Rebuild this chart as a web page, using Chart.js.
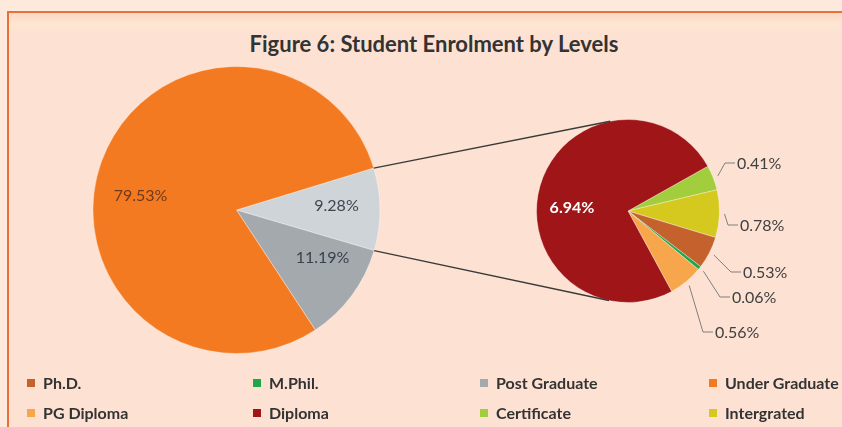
<!DOCTYPE html>
<html>
<head>
<meta charset="utf-8">
<script src="https://cdn.jsdelivr.net/npm/chart.js@4.4.1/dist/chart.umd.min.js"></script>
<style>
  html, body { margin: 0; padding: 0; }
  body { width: 842px; height: 427px; background: #fdeadd; position: relative; overflow: hidden; font-family: Lato, "Open Sans", sans-serif; }
  #frame { position: absolute; left: 7px; top: 11px; width: 860px; height: 430px;
    border-top: 2px solid #e8703a; border-left: 2px solid #e8703a;
    background: linear-gradient(to bottom, #fbd9c8 0px, #fcdcc9 4px, #fde6d1 10px, #fde2d3 20px, #fde2d3 100%); }
  #title { position: absolute; left: 0; width: 868px; top: 30px; text-align: center; font-weight: bold; font-size: 22px; color: #333; }
  canvas { position: absolute; left: 0; top: 0; }
  #legend { position: absolute; left: 0; top: 373px; width: 842px; }
  .li { position: absolute; font-weight: bold; font-size: 16px; color: #333; white-space: nowrap; }
  .li span.sw { display: inline-block; width: 8px; height: 8px; margin-right: 8px; vertical-align: 2px; }
</style>
</head>
<body>
<div id="frame"></div>
<div id="title">Figure 6: Student Enrolment by Levels</div>
<canvas id="c1" width="842" height="427"></canvas>
<canvas id="c2" width="842" height="427"></canvas>
<div id="legend"></div>
<script>
// ---- data ----
const legendLabels = ["Ph.D.", "M.Phil.", "Post Graduate", "Under Graduate", "PG Diploma", "Diploma", "Certificate", "Intergrated"];
const legendColors = ["#c5612d", "#1ea84b", "#a4a9ae", "#f47a22", "#f8a64b", "#a01517", "#a2cd3c", "#d5c81e"];

// main pie (first slice = the "other" group split out in the second pie)
const mainLabels = ["Other", "Post Graduate", "Under Graduate"];
const postGraduate = 11.19;
const underGraduate = 79.53;

// second pie
const subLabels = ["Certificate", "Intergrated", "Ph.D.", "M.Phil.", "PG Diploma", "Diploma"];
const subValues = [0.41, 0.78, 0.53, 0.06, 0.56, 6.94];
const subColors = ["#a2cd3c", "#d5c81e", "#c5612d", "#1ea84b", "#f8a64b", "#a01517"];

const otherTotal = Math.round(subValues.reduce((a, b) => a + b, 0) * 100) / 100;
const mainValues = [otherTotal, postGraduate, underGraduate];
const mainColors = ["#cfd4d9", "#a4a9ae", "#f47a22"];

// ---- legend ----
const legEl = document.getElementById('legend');
const colX = [27, 253, 480, 709];
legendLabels.forEach((l, i) => {
  const d = document.createElement('div');
  d.className = 'li';
  d.style.left = colX[i % 4] + 'px';
  d.style.top = (Math.floor(i / 4) * 30) + 'px';
  d.innerHTML = '<span class="sw" style="background:' + legendColors[i] + '"></span>' + l;
  legEl.appendChild(d);
});

Chart.defaults.animation = false;
Chart.defaults.font.family = 'Lato, "Open Sans", sans-serif';

// label plugin: text at offsets from pie centre
const pieLabels = {
  id: 'pieLabels',
  afterDatasetsDraw(chart, args, opts) {
    const ctx = chart.ctx;
    const meta = chart.getDatasetMeta(0);
    const ds = chart.data.datasets[0];
    ctx.save();
    meta.data.forEach((arc, i) => {
      const cfg = opts.items[i];
      if (!cfg) return;
      const txt = ds.data[i].toFixed(2) + '%';
      ctx.font = (cfg.bold ? 'bold ' : '') + opts.size + 'px ' + Chart.defaults.font.family;
      ctx.fillStyle = cfg.color;
      if (cfg.leader) {
        const mid = (arc.startAngle + arc.endAngle) / 2;
        const r0 = arc.outerRadius + 5;
        const sx = arc.x + Math.cos(mid) * r0, sy = arc.y + Math.sin(mid) * r0;
        const ex = arc.x + cfg.at[0], ey = arc.y + cfg.at[1];
        ctx.strokeStyle = '#7f7f7f';
        ctx.lineWidth = 1;
        ctx.beginPath();
        ctx.moveTo(sx, sy);
        ctx.lineTo(ex, ey);
        ctx.lineTo(ex + 10, ey);
        ctx.stroke();
        ctx.textAlign = 'left';
        ctx.textBaseline = 'middle';
        ctx.fillText(txt, ex + 12, ey + 1);
      } else {
        ctx.textAlign = 'center';
        ctx.textBaseline = 'middle';
        ctx.fillText(txt, arc.x + cfg.at[0], arc.y + cfg.at[1]);
      }
    });
    ctx.restore();
  }
};

const chart1 = new Chart(document.getElementById('c1'), {
  type: 'pie',
  data: { labels: mainLabels, datasets: [{ data: mainValues, backgroundColor: mainColors, borderColor: 'rgba(255,255,255,0.35)', borderWidth: 1 }] },
  options: {
    responsive: false,
    rotation: 73,
    layout: { padding: { left: 92, right: 461, top: 66, bottom: 73 } },
    plugins: {
      legend: { display: false }, tooltip: { enabled: false },
      pieLabels: { size: 16, items: [
        { at: [100, -4], color: '#3e4650' },
        { at: [86, 48], color: '#38424c' },
        { at: [-96, -14], color: '#6e3a1c' }
      ] }
    }
  },
  plugins: [pieLabels]
});

// connector lines from the "other" wedge to the second pie (tangents)
const connectors = {
  id: 'connectors',
  afterDatasetsDraw(chart) {
    const a = chart1.getDatasetMeta(0).data[0];
    const b = chart.getDatasetMeta(0).data[0];
    const cx = b.x, cy = b.y, R = b.outerRadius;
    const ctx = chart.ctx;
    ctx.save();
    ctx.strokeStyle = '#3a3a3a';
    ctx.lineWidth = 1.3;
    [[a.startAngle, -1], [a.endAngle, 1]].forEach(([ang, side]) => {
      const px = a.x + Math.cos(ang) * a.outerRadius;
      const py = a.y + Math.sin(ang) * a.outerRadius;
      const dx = px - cx, dy = py - cy;
      const d = Math.hypot(dx, dy);
      const base = Math.atan2(dy, dx);
      const t = base - side * Math.acos(R / d);
      const tx = cx + Math.cos(t) * R, ty = cy + Math.sin(t) * R;
      ctx.beginPath();
      ctx.moveTo(px, py);
      ctx.lineTo(tx, ty);
      ctx.stroke();
    });
    ctx.restore();
  }
};

new Chart(document.getElementById('c2'), {
  type: 'pie',
  data: { labels: subLabels, datasets: [{ data: subValues, backgroundColor: subColors, borderColor: 'rgba(255,255,255,0.35)', borderWidth: 1 }] },
  options: {
    responsive: false,
    rotation: 60.7,
    layout: { padding: { left: 536, right: 122, top: 119, bottom: 124 } },
    plugins: {
      legend: { display: false }, tooltip: { enabled: false },
      pieLabels: { size: 16, items: [
        { at: [97, -48], color: '#404040', leader: true },
        { at: [100, 14], color: '#404040', leader: true },
        { at: [103, 61], color: '#404040', leader: true },
        { at: [92, 86], color: '#404040', leader: true },
        { at: [75, 121], color: '#404040', leader: true },
        { at: [-56, -3], color: '#ffffff', bold: true }
      ] }
    }
  },
  plugins: [pieLabels, connectors]
});
</script>
</body>
</html>
